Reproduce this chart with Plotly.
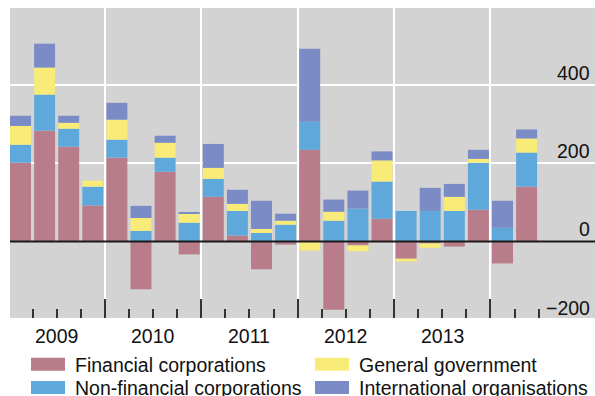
import plotly.graph_objects as go

# Quarterly net flows, 2009 Q1 – 2014 Q2
quarters = list(range(22))
years = ["2009", "2010", "2011", "2012", "2013"]

financial = [201, 283, 242, 92, 214, -122, 178, -33, 114, 15, -71, -8,
             234, -174, -10, 58, -44, -5, -13, 81, -56, 140]
non_financial = [46, 92, 46, 48, 46, 27, 36, 48, 46, 63, 22, 43,
                 72, 53, 84, 95, 78, 78, 78, 120, 35, 87]
general_gov = [48, 69, 15, 15, 51, 33, 38, 23, 28, 18, 10, 10,
               -23, 23, -15, 54, -7, -11, 36, 10, 0, 36]
international = [26, 61, 18, 0, 43, 31, 18, 3, 61, 36, 72, 18,
                 186, 31, 46, 23, 0, 59, 33, 23, 69, 23]

series_names = ["Financial corporations", "Non-financial corporations",
                "General government", "International organisations"]
series_values = [financial, non_financial, general_gov, international]
series_colors = ["#B97C8A", "#5FA8DC", "#F8EB78", "#7A8BC5"]

y_tick_values = [400, 200, 0, -200]
y_tick_labels = ["400", "200", "0", "\u2212200"]

FONT = "Liberation Sans, Arial, sans-serif"
FS = 19.5

Y_MIN, Y_MAX = -195.3, 596.1

fig = go.Figure()
for name, vals, col in zip(series_names, series_values, series_colors):
    fig.add_trace(go.Bar(x=quarters, y=vals, name=name,
                         marker=dict(color=col, line=dict(width=0)),
                         showlegend=False))

# plot area geometry (pixels) used for paper-coordinate placement
L, R, T, B = 10, 595, 8, 318
PW, PH = R - L, B - T


def px_x(px):
    return (px - L) / PW


def px_y(py):
    return (B - py) / PH


def val_to_paper(v):
    return (v - Y_MIN) / (Y_MAX - Y_MIN)


year_bounds = [3.5, 7.5, 11.5, 15.5, 19.5]
quarter_bounds = [q + 0.5 for q in quarters if (q + 0.5) not in year_bounds]

fig.update_layout(
    width=595, height=396,
    margin=dict(l=L, r=0, t=T, b=396 - B, pad=0),
    paper_bgcolor="white",
    plot_bgcolor="#D2D3D2",
    barmode="relative",
    bargap=0.13,
    font=dict(family=FONT, size=FS, color="#111111"),
    xaxis=dict(
        range=[-0.4357, 23.838], type="linear",
        tickvals=year_bounds, ticks="inside", ticklen=19, tickwidth=2,
        tickcolor="#333333", showticklabels=False,
        showgrid=True, gridcolor="white", gridwidth=2,
        zeroline=False, showline=False,
        minor=dict(tickvals=quarter_bounds, ticks="inside", ticklen=9,
                   tickwidth=2, tickcolor="#333333", showgrid=False),
    ),
    yaxis=dict(
        range=[Y_MIN, Y_MAX],
        tickvals=[200, 400], showticklabels=False, ticks="",
        showgrid=True, gridcolor="white", gridwidth=2,
        zeroline=False, showline=False,
    ),
)

# zero line drawn over the bars
fig.add_shape(type="line", xref="paper", yref="y", x0=0, x1=1, y0=0, y1=0,
              line=dict(color="#1A1A1A", width=2), layer="above")

# y tick labels sit inside the plot, just above their value
for v, t in zip(y_tick_values, y_tick_labels):
    fig.add_annotation(xref="paper", yref="paper", x=1, y=val_to_paper(v),
                       text=t, showarrow=False, xanchor="right",
                       yanchor="bottom", xshift=-3, yshift=-1,
                       font=dict(family=FONT, size=FS, color="#111111"))

# year labels centred under each group of four quarters
for i, yr in enumerate(years):
    fig.add_annotation(xref="x", yref="paper", x=1.5 + 4 * i, y=px_y(336),
                       text=yr, showarrow=False, xanchor="center",
                       yanchor="middle",
                       font=dict(family=FONT, size=FS, color="#111111"))

# two-column legend with wide swatches
legend_slots = {
    "Financial corporations": (31, 357.7),
    "General government": (315, 357.7),
    "Non-financial corporations": (31, 381),
    "International organisations": (315, 381),
}
for name, col in zip(series_names, series_colors):
    sx, sy = legend_slots[name]
    fig.add_shape(type="rect", xref="paper", yref="paper",
                  x0=px_x(sx), x1=px_x(sx + 34),
                  y0=px_y(sy + 13), y1=px_y(sy),
                  fillcolor=col, line=dict(width=0))
    fig.add_annotation(xref="paper", yref="paper", x=px_x(sx + 41.5),
                       y=px_y(sy + 6.8), text=name, showarrow=False,
                       xanchor="left", yanchor="middle",
                       font=dict(family=FONT, size=FS, color="#111111"))

fig.write_html("out.html")
